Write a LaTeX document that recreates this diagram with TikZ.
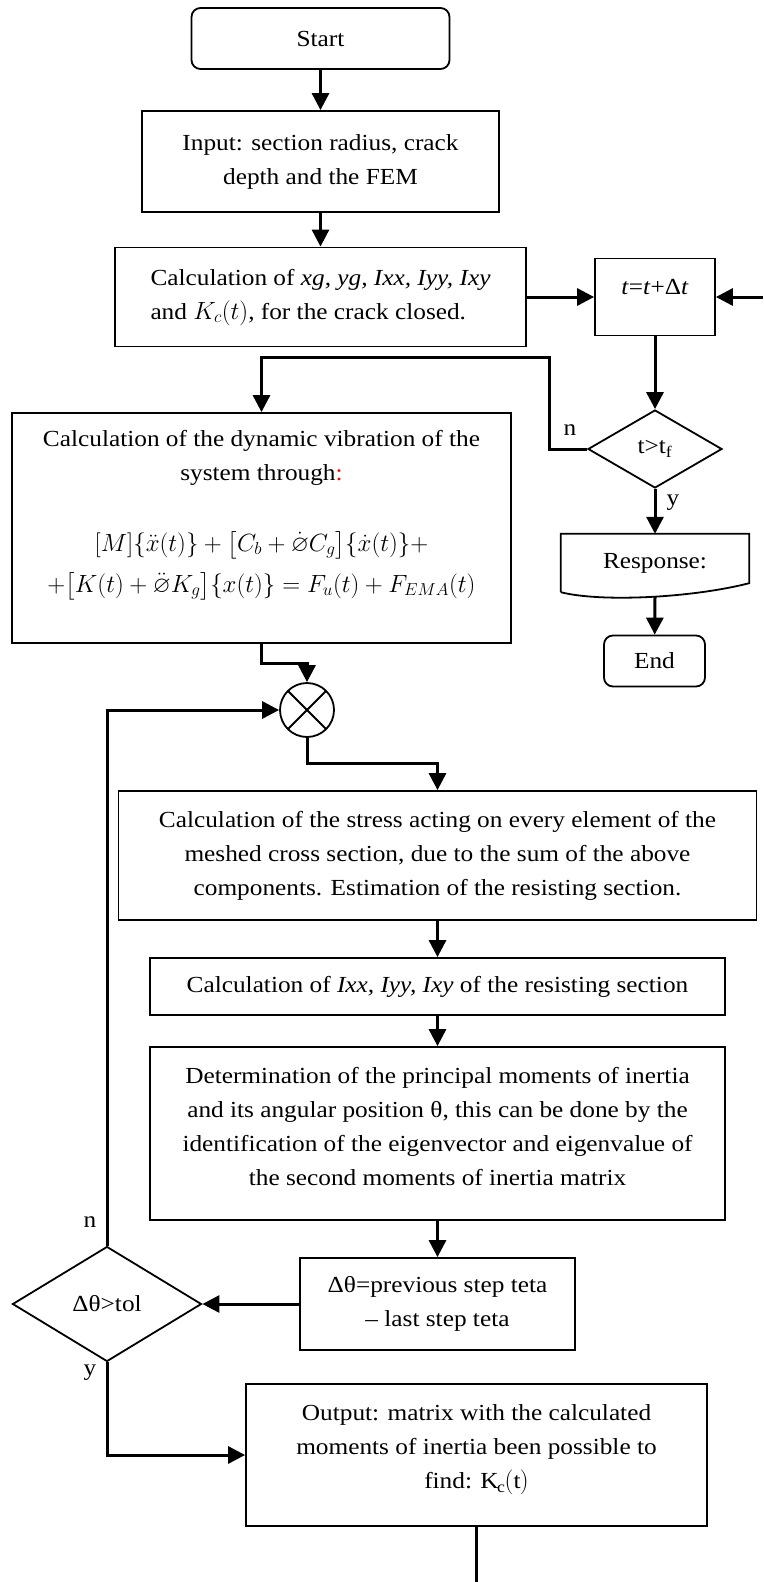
\documentclass[tikz,border=0pt]{standalone}
\usepackage{fontspec}
\setmainfont{Liberation Serif}[FakeStretch=1.1]
\usepackage{amsmath,amssymb}
\usetikzlibrary{arrows.meta,calc,shapes.geometric}
\tikzset{
    flow chart/.style = {x=1pt, y=-1pt,
                         >={Triangle[length=17pt,width=17pt]},
                         font=\fontsize{23}{34}\selectfont},
    line/.style       = {line width=3pt},
    block/.style      = {draw, line width=1.8pt, fill=white, align=center,
                         inner sep=0pt},
    terminal/.style   = {block, rounded corners=9pt},
    decision/.style   = {draw, line width=1.8pt, diamond, inner sep=0pt,
                         shape aspect=1.7},
    sum/.style        = {draw, line width=1.8pt, circle, minimum size=54pt,
                         inner sep=0pt,
                         path picture={\draw[line width=1.8pt]
                           (path picture bounding box.north west) --
                           (path picture bounding box.south east)
                           (path picture bounding box.south west) --
                           (path picture bounding box.north east);}},
    branch/.style     = {inner sep=0pt}
}
\def\topcol{320.5}
\def\rightcol{655}
\def\lowcol{437.5}

\begin{document}
\begin{tikzpicture}[flow chart]
\useasboundingbox (0,0) rectangle (763,1582);

% ================= Set-up =================
\node[terminal, minimum width=258pt, minimum height=61pt] (start) at (\topcol,38.5) {Start};
\node[block, minimum width=357pt, minimum height=101pt] (input) at (\topcol,161.5)
    {Input: section radius, crack\\depth and the FEM};
\node[block, align=left, minimum width=411pt, minimum height=99pt] (calc) at (\topcol,297)
    {Calculation of \textit{xg, yg, Ixx, Iyy, Ixy}\\and $K_c(t)$, for the crack closed.};

% ================= Time stepping =================
\node[block, minimum width=120pt, minimum height=77pt, text depth=20pt] (tstep) at (\rightcol,297)
    {\textit{t}=\textit{t}+Δ\textit{t}};
\coordinate (loopin) at (763,297);
\node[decision, minimum width=134pt, minimum height=78pt] (tcheck) at (\rightcol,449)
    {t>t\textsubscript{f}};
\node[branch] (tn) at (570,430) {n};
\node[branch] (ty) at (673,503) {y};
\node[minimum width=188pt, minimum height=58pt, inner sep=0pt] (resp) at (\rightcol,563) {Response:};
\draw[line width=1.8pt] (resp.south west) -- (resp.north west) -- (resp.north east)
    -- ($(resp.south east)+(0,-9)$)
    .. controls ($(resp.south east)+(-59,6)$) and ($(resp.south west)+(39,10)$) .. (resp.south west);
\node[terminal, minimum width=101pt, minimum height=51pt] (stop) at (654.5,661) {End};

% ================= Dynamic model =================
\node[block, minimum width=499pt, minimum height=230pt, text depth=34pt] (dyn) at (261.5,528)
    {Calculation of the dynamic vibration of the\\
     system through\textcolor{red}{:}\\[37pt]
     $[M]\{\ddot{x}(t)\}+\bigl[C_b+\dot{\varnothing}C_g\bigr]\{\dot{x}(t)\}+$\\[7pt]
     $+\bigl[K(t)+\ddot{\varnothing}K_g\bigr]\{x(t)\}=F_u(t)+F_{EMA}(t)$};
\node[sum] (sum) at (307,710) {};

% ================= Resisting section =================
\node[block, minimum width=638pt, minimum height=129pt] (stress) at (\lowcol,855.5)
    {Calculation of the stress acting on every element of the\\
     meshed cross section, due to the sum of the above\\
     components. Estimation of the resisting section.};
\node[block, minimum width=575pt, minimum height=57pt] (ixx) at (\lowcol,986.5)
    {Calculation of \textit{Ixx, Iyy, Ixy} of the resisting section};
\node[block, minimum width=575pt, minimum height=173pt, text depth=15pt] (det) at (\lowcol,1133.5)
    {Determination of the principal moments of inertia\\
     and its angular position θ, this can be done by the\\
     identification of the eigenvector and eigenvalue of\\
     the second moments of inertia matrix};
\node[block, minimum width=275pt, minimum height=92pt] (dtheta) at (\lowcol,1304)
    {Δθ=previous step teta\\-- last step teta};
\node[decision, minimum width=189pt, minimum height=115pt] (tolcheck) at (107,1304) {Δθ>tol};
\node[branch] (toln) at (90,1222) {n};
\node[branch] (toly) at (90,1373) {y};
\node[block, minimum width=461pt, minimum height=142pt, text depth=17pt] (output) at (476.5,1455)
    {Output: matrix with the calculated\\
     moments of inertia been possible to\\
     find: $\mathrm{K_c(t)}$};
\coordinate (outend) at (476.5,1582);

% ================= Connectors =================
\draw[line,->] (start) -- (input);
\draw[line,->] (input) -- (calc);
\draw[line,->] (calc) -- (tstep);
\draw[line,->] (loopin) -- (tstep);
\draw[line,->] (tstep) -- (tcheck);
\draw[line,->] (tcheck.west) -| (549,357) -| (dyn.north);
\draw[line,->] (tcheck) -- (resp);
\draw[line,->] ([yshift=-5pt]resp.south) -- (stop);
\draw[line,->] (dyn.south) -- ++(0,20) -| (sum.north);
\draw[line,->] (sum.south) -- ++(0,26) -| (stress.north);
\draw[line,->] (stress) -- (ixx);
\draw[line,->] (ixx) -- (det);
\draw[line,->] (det) -- (dtheta);
\draw[line,->] (dtheta) -- (tolcheck);
\draw[line,->] (tolcheck.north) |- (sum.west);
\draw[line,->] (tolcheck.south) |- (output.west);
\draw[line] (output) -- (outend);

\end{tikzpicture}
\end{document}
